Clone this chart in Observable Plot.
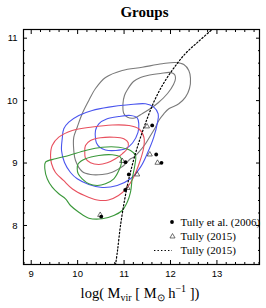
<!DOCTYPE html>
<html><head><meta charset="utf-8">
<script src="https://cdn.jsdelivr.net/npm/d3@7"></script>
<script src="https://cdn.jsdelivr.net/npm/@observablehq/plot@0.6"></script>
<style>body{margin:0;background:#fff}</style>
</head><body>
<script>
const xMajor = [9, 10, 11, 12, 13];
const yMajor = [8, 9, 10, 11];
const xMinor = d3.range(45, 70).map(i => i / 5);
const yMinor = d3.range(37, 56).map(i => i / 5);

const grayOuter = [[9.917,9.201],[9.917,9.414],[9.991,9.574],[10.098,9.789],[10.241,10.002],[10.385,10.194],[10.600,10.370],[10.960,10.483],[11.391,10.535],[11.821,10.590],[12.108,10.611],[12.287,10.579],[12.394,10.483],[12.431,10.354],[12.409,10.194],[12.323,10.055],[12.179,9.949],[11.964,9.869],[11.856,9.789],[11.748,9.682],[11.677,9.574],[11.569,9.441],[11.462,9.309],[11.317,9.174],[11.210,9.094],[11.139,9.068],[10.994,8.961],[10.887,8.908],[10.745,8.854],[10.529,8.817],[10.277,8.817],[10.098,8.865],[9.954,9.041]];
const grayInner = [[10.994,9.794],[10.977,9.954],[11.009,10.082],[11.074,10.178],[11.203,10.306],[11.354,10.370],[11.505,10.403],[11.785,10.435],[12.000,10.451],[12.086,10.419],[12.108,10.354],[12.065,10.258],[11.936,10.114],[11.742,9.970],[11.569,9.874],[11.397,9.794],[11.225,9.722],[11.074,9.735]];
const blueOuter = [[9.668,9.389],[9.702,9.549],[9.810,9.655],[10.025,9.762],[10.314,9.842],[10.671,9.895],[11.102,9.933],[11.462,9.949],[11.640,9.895],[11.735,9.789],[11.720,9.650],[11.640,9.414],[11.498,9.148],[11.354,8.934],[11.139,8.748],[10.852,8.641],[10.529,8.609],[10.241,8.657],[9.991,8.748],[9.846,8.849],[9.717,9.009],[9.653,9.201]];
const blueInner = [[10.385,9.389],[10.385,9.522],[10.456,9.629],[10.637,9.709],[10.887,9.746],[11.139,9.762],[11.283,9.725],[11.317,9.629],[11.300,9.490],[11.182,9.321],[11.031,9.228],[10.816,9.201],[10.600,9.209],[10.471,9.257],[10.406,9.321]];
const redOuter = [[9.416,9.121],[9.452,9.281],[9.594,9.414],[9.883,9.522],[10.314,9.578],[10.745,9.610],[11.102,9.602],[11.317,9.549],[11.429,9.409],[11.419,9.233],[11.333,9.009],[11.203,8.769],[11.053,8.593],[10.880,8.480],[10.665,8.408],[10.421,8.408],[10.148,8.480],[9.889,8.585],[9.696,8.721],[9.523,8.849],[9.437,8.993]];
const redInner = [[10.154,9.174],[10.169,9.281],[10.277,9.361],[10.493,9.405],[10.779,9.414],[10.994,9.389],[11.089,9.325],[11.068,9.228],[10.960,9.148],[10.816,9.068],[10.637,9.004],[10.456,8.977],[10.277,9.004],[10.169,9.078]];
const greenOuter = [[9.308,9.014],[9.523,9.068],[9.810,9.121],[10.169,9.201],[10.529,9.254],[10.887,9.254],[11.139,9.201],[11.246,9.121],[11.231,8.961],[11.175,8.748],[11.139,8.533],[11.068,8.373],[10.960,8.240],[10.779,8.160],[10.529,8.107],[10.241,8.117],[10.025,8.213],[9.846,8.320],[9.739,8.427],[9.594,8.508],[9.452,8.613],[9.345,8.748],[9.293,8.908]];
const greenInner = [[9.991,8.908],[10.012,8.988],[10.169,9.068],[10.456,9.121],[10.745,9.132],[10.923,9.094],[10.945,9.014],[10.887,8.881],[10.779,8.748],[10.600,8.668],[10.421,8.641],[10.241,8.668],[10.098,8.748],[10.012,8.828]];

const tully2006X = [11.606, 11.692, 11.806, 11.031, 11.102, 11.025, 10.508];
const tully2006Y = [9.602, 9.137, 9.004, 9.014, 8.817, 8.568, 8.141];
const tully2015X = [11.494, 11.554, 11.720, 10.960, 11.283, 11.074, 10.486];
const tully2015Y = [9.586, 9.137, 9.004, 9.033, 8.817, 8.600, 8.169];
const relationX = [10.816, 10.859, 10.923, 11.009, 11.095, 11.203, 11.332, 11.483, 11.656, 11.849, 12.065, 12.323, 12.603, 12.883];
const relationY = [7.367, 7.599, 8.000, 8.400, 8.721, 9.041, 9.361, 9.682, 10.002, 10.274, 10.515, 10.755, 10.947, 11.131];

const legendLabels = ["Tully et al. (2006)", "Tully (2015)", "Tully (2015)"];

const colors = {gray: "#7a7a7a", blue: "#4a55ee", red: "#e8505e", green: "#3a983a"};
const contours = [
  [grayOuter, colors.gray], [grayInner, colors.gray],
  [blueOuter, colors.blue], [blueInner, colors.blue],
  [redOuter, colors.red], [redInner, colors.red],
  [greenOuter, colors.green], [greenInner, colors.green]
];

const pts2006 = tully2006X.map((x, i) => ({x, y: tully2006Y[i]}));
const pts2015 = tully2015X.map((x, i) => ({x, y: tully2015Y[i]}));
const relation = relationX.map((x, i) => ({x, y: relationY[i]}));

const W = 266, H = 308;
const chart = Plot.plot({
  width: W, height: H,
  marginLeft: 23, marginRight: 7, marginTop: 29, marginBottom: 44,
  x: {domain: [8.834, 13.917]},
  y: {domain: [7.375, 11.139]},
  style: {fontFamily: "'Liberation Sans', Arial, sans-serif", fontSize: "9.5px", color: "black", background: "white"},
  marks: [
    ...contours.map(([d, c]) => Plot.line(d, {x: d => d[0], y: d => d[1], curve: "catmull-rom-closed", stroke: c, strokeWidth: 1.1})),
    Plot.line(relation, {x: "x", y: "y", curve: "catmull-rom", stroke: "black", strokeWidth: 1.2, strokeDasharray: "1.4,2.1", clip: true}),
    Plot.dot(pts2015, {x: "x", y: "y", symbol: "triangle", r: 1.9, stroke: "#333", strokeWidth: 0.7, fill: "none"}),
    Plot.dot(pts2006, {x: "x", y: "y", r: 1.9, fill: "black"}),
    Plot.frame({stroke: "black", strokeWidth: 1.2}),
    Plot.axisX({ticks: xMajor, anchor: "bottom", tickSize: 0, tickPadding: 6, label: null, tickFormat: d => String(d)}),
    Plot.axisY({ticks: yMajor, anchor: "left", tickSize: 0, tickPadding: 6, label: null, tickFormat: d => String(d)}),
    Plot.axisX({ticks: xMajor, anchor: "bottom", tickSize: 4, dy: -4, label: null, tickFormat: () => ""}),
    Plot.axisX({ticks: xMajor, anchor: "top", tickSize: 4, dy: 4, label: null, tickFormat: () => ""}),
    Plot.axisX({ticks: xMinor.filter(v => !xMajor.includes(v)), anchor: "bottom", tickSize: 2, dy: -2, label: null, tickFormat: () => ""}),
    Plot.axisX({ticks: xMinor.filter(v => !xMajor.includes(v)), anchor: "top", tickSize: 2, dy: 2, label: null, tickFormat: () => ""}),
    Plot.axisY({ticks: yMajor, anchor: "left", tickSize: 4, dx: 4, label: null, tickFormat: () => ""}),
    Plot.axisY({ticks: yMajor, anchor: "right", tickSize: 4, dx: -4, label: null, tickFormat: () => ""}),
    Plot.axisY({ticks: yMinor.filter(v => !yMajor.includes(v)), anchor: "left", tickSize: 2, dx: 2, label: null, tickFormat: () => ""}),
    Plot.axisY({ticks: yMinor.filter(v => !yMajor.includes(v)), anchor: "right", tickSize: 2, dx: -2, label: null, tickFormat: () => ""})
  ]
});

const svg = d3.select(chart);
const serif = "'Liberation Serif', 'Times New Roman', serif";
svg.append("text").attr("x", 144.5).attr("y", 16.5).attr("text-anchor", "middle")
  .attr("font-family", serif).attr("font-weight", "bold").attr("font-size", 15).attr("fill", "black").text("Groups");

const lab = svg.append("text").attr("x", 140).attr("y", 298).attr("text-anchor", "middle")
  .attr("font-family", serif).attr("font-size", 14.5).attr("fill", "black");
lab.append("tspan").text("log( M");
lab.append("tspan").attr("font-size", 10).attr("dy", 3).text("vir");
lab.append("tspan").attr("dy", -3).text(" [ M");
lab.append("tspan").attr("font-size", 10).attr("dy", 3).text("⊙");
lab.append("tspan").attr("dy", -3).text(" h");
lab.append("tspan").attr("font-size", 10).attr("dy", -6).text("−1");
lab.append("tspan").attr("dy", 6).text(" ])");

const leg = svg.append("g").attr("font-family", serif).attr("font-size", 11).attr("fill", "black").attr("text-anchor", "start");
const rows = [222, 236.5, 250.5];
leg.append("circle").attr("cx", 172).attr("cy", rows[0]).attr("r", 1.9).attr("fill", "black");
leg.append("path").attr("transform", `translate(172.5,${rows[1]})`).attr("d", d3.symbol(d3.symbolTriangle, Math.PI * 1.9 * 1.9)())
  .attr("fill", "none").attr("stroke", "#333").attr("stroke-width", 0.7);
leg.append("line").attr("x1", 154).attr("x2", 172).attr("y1", rows[2]).attr("y2", rows[2])
  .attr("stroke", "black").attr("stroke-width", 1.2).attr("stroke-dasharray", "1.4,2.1");
legendLabels.forEach((t, i) => {
  leg.append("text").attr("x", 180.5).attr("y", rows[i]).attr("dy", "0.35em").attr("text-anchor", "start").text(t);
});

document.body.appendChild(chart);
</script>
</body></html>
